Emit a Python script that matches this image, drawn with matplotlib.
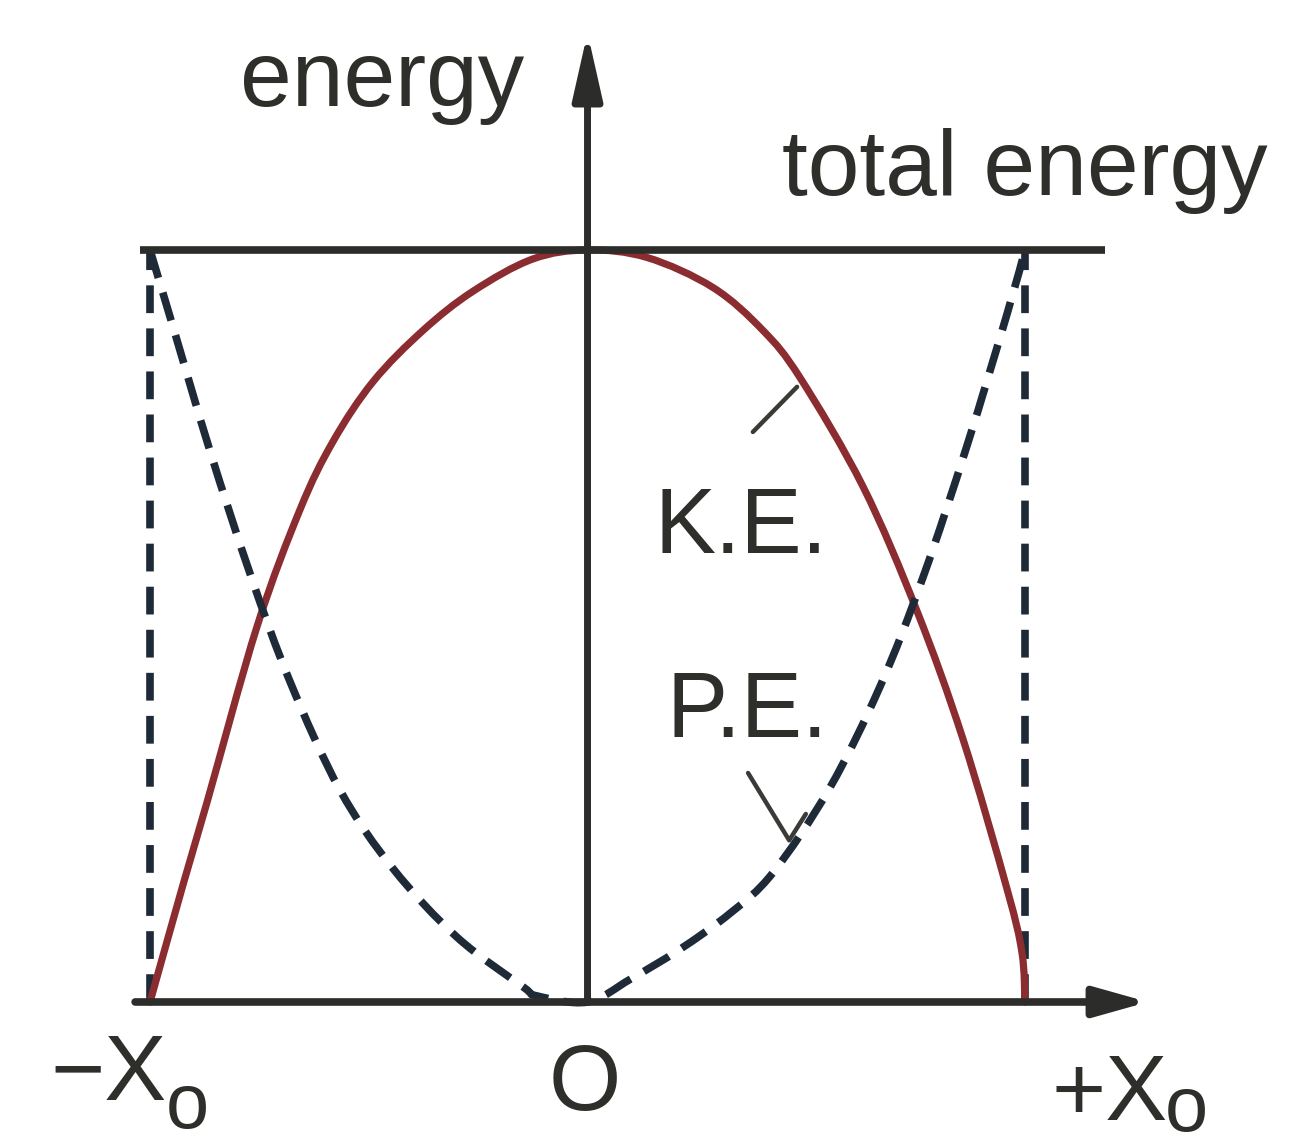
import numpy as np
import matplotlib
matplotlib.use("Agg")
import matplotlib.pyplot as plt
from matplotlib.path import Path
from matplotlib.patches import PathPatch

plt.rcParams['font.family'] = ['Liberation Sans', 'DejaVu Sans']
plt.rcParams['lines.scale_dashes'] = False

# Displacement in units of the amplitude X0, energy in units of the total energy
amplitude = 1.0
total_energy = 1.0

ke_x = [-1.0, -0.925, -0.870, -0.755, -0.657, -0.582, -0.490, -0.376, -0.262,
        -0.125, 0.0, 0.136, 0.287, 0.401, 0.486, 0.630, 0.753, 0.858, 0.959,
        0.993, 1.0]
ke_y = [0.0, 0.155, 0.265, 0.500, 0.655, 0.745, 0.825, 0.893, 0.945,
        0.988, 1.0, 0.990, 0.950, 0.893, 0.830, 0.685, 0.520, 0.350, 0.150,
        0.066, 0.0]

pe_x = [-1.0, -0.947, -0.863, -0.771, -0.680, -0.566, -0.444, -0.298, -0.147,
        -0.115, 0.0, 0.097, 0.211, 0.326, 0.424, 0.554, 0.669, 0.767, 0.867,
        0.959, 1.0]
pe_y = [1.0, 0.897, 0.733, 0.569, 0.426, 0.282, 0.177, 0.086, 0.020,
        0.008, 0.0, 0.030, 0.070, 0.118, 0.172, 0.285, 0.420, 0.565, 0.739,
        0.915, 1.0]

x_labels = ["\u2212X", "O", "+X"]
subscript = "o"
axis_label = "energy"
line_label = "total energy"
ke_label = "K.E."
pe_label = "P.E."

INK = "#2e2e2a"
AXIS = "#2c2c2a"
KE_COLOR = "#8b2d30"
PE_COLOR = "#1e2a38"


def smooth_path(xs, ys):
    """Cubic Bezier path passing through every given point (Catmull-Rom tangents)."""
    pts = np.column_stack([xs, ys])
    ext = np.vstack([pts[0], pts, pts[-1]])
    verts = [pts[0]]
    codes = [Path.MOVETO]
    for i in range(1, len(ext) - 2):
        p0, p1, p2, p3 = ext[i - 1], ext[i], ext[i + 1], ext[i + 2]
        verts += [p1 + (p2 - p0) / 6.0, p2 - (p3 - p1) / 6.0, p2]
        codes += [Path.CURVE4] * 3
    return Path(verts, codes)


fig = plt.figure(figsize=(13.04, 11.46), dpi=100)
ax = fig.add_axes([0, 0, 1, 1])
ax.set_xlim(-1.3429, 1.6377)
ax.set_ylim(-0.1915, 1.3324)
ax.axis('off')

# amplitude markers at -X0 and +X0
for xa in (-amplitude, amplitude):
    ax.plot([xa, xa], [0, total_energy], color=PE_COLOR, lw=5.5,
            linestyle=(0, (20, 11)), dash_capstyle='butt', zorder=2)

# kinetic energy (solid) and potential energy (dashed)
ax.add_patch(PathPatch(smooth_path(ke_x, ke_y), fill=False, edgecolor=KE_COLOR,
                       lw=5.2, capstyle='round', joinstyle='round', zorder=3))
ax.add_patch(PathPatch(smooth_path(pe_x, pe_y), fill=False, edgecolor=PE_COLOR,
                       lw=5.5, linestyle=(0, (21, 11)), capstyle='butt',
                       joinstyle='round', zorder=4))

# total energy level
ax.plot([-1.023, 1.183], [total_energy, total_energy], color=AXIS, lw=5.5,
        solid_capstyle='butt', zorder=5)

# axes with arrows
ax.annotate('', xy=(1.281, 0), xytext=(-1.034, 0),
            arrowprops=dict(arrowstyle='-|>,head_length=32,head_width=9',
                            mutation_scale=1, lw=5.5, color=AXIS,
                            shrinkA=0, shrinkB=0), zorder=6)
ax.annotate('', xy=(0, 1.289), xytext=(0, 0),
            arrowprops=dict(arrowstyle='-|>,head_length=40,head_width=9',
                            mutation_scale=1, lw=5.0, color=AXIS,
                            shrinkA=0, shrinkB=0), zorder=6)

# leader lines for the curve labels
ax.plot([0.378, 0.479], [0.758, 0.818], color="#3a3a36", lw=3.2,
        solid_capstyle='round', zorder=6)
ax.plot([0.367, 0.461, 0.499], [0.3045, 0.215, 0.250], color="#3a3a36", lw=3.2,
        solid_capstyle='round', solid_joinstyle='round', zorder=6)

fs = 67
ax.text(-0.470, 1.191, axis_label, fontsize=fs, color=INK, ha='center', va='baseline')
ax.text(0.999, 1.073, line_label, fontsize=fs, color=INK, ha='center', va='baseline')
ax.text(0.351, 0.597, ke_label, fontsize=66, color=INK, ha='center', va='baseline')
ax.text(0.365, 0.352, pe_label, fontsize=66, color=INK, ha='center', va='baseline')

ax.text(-1.228, -0.130, x_labels[0], fontsize=fs, color=INK, ha='left', va='baseline')
ax.text(-0.915, -0.168, subscript, fontsize=56, color=INK, ha='center', va='baseline')
ax.text(-0.006, -0.1436, x_labels[1], fontsize=fs, color=INK, ha='center', va='baseline')
ax.text(1.193, -0.157, x_labels[2], fontsize=fs, color=INK, ha='center', va='baseline')
ax.text(1.368, -0.171, subscript, fontsize=56, color=INK, ha='center', va='baseline')

fig.savefig("out.png", dpi=100, facecolor="white")
